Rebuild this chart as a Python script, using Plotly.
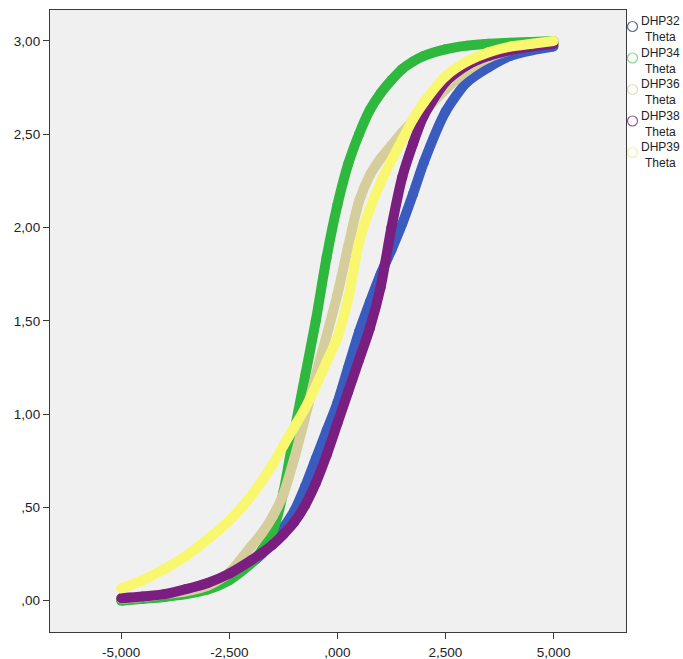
import plotly.graph_objects as go

# ---- data ----
theta = [-5.0, -4.5, -4.0, -3.5, -3.0, -2.5, -2.0, -1.75, -1.5, -1.25, -1.0,
         -0.75, -0.5, -0.25, 0.0, 0.25, 0.5, 0.75, 1.0, 1.25, 1.5, 1.75, 2.0,
         2.5, 3.0, 3.5, 4.0, 4.5, 5.0]

dhp32 = [0.005, 0.012, 0.022, 0.04, 0.07, 0.12, 0.20, 0.25, 0.31, 0.39, 0.48,
         0.61, 0.76, 0.91, 1.06, 1.25, 1.44, 1.60, 1.75, 1.88, 2.02, 2.18, 2.35,
         2.62, 2.78, 2.86, 2.92, 2.95, 2.97]
dhp34 = [0.00, 0.01, 0.02, 0.035, 0.06, 0.11, 0.20, 0.27, 0.37, 0.58, 0.90,
         1.20, 1.50, 1.84, 2.12, 2.34, 2.50, 2.63, 2.72, 2.79, 2.85, 2.89, 2.92,
         2.955, 2.975, 2.985, 2.99, 2.995, 3.0]
dhp36 = [0.01, 0.02, 0.035, 0.05, 0.08, 0.15, 0.29, 0.36, 0.45, 0.57, 0.76,
         0.98, 1.21, 1.42, 1.64, 1.90, 2.14, 2.28, 2.37, 2.44, 2.51, 2.57, 2.62,
         2.74, 2.84, 2.91, 2.95, 2.975, 2.99]
dhp38 = [0.013, 0.022, 0.035, 0.062, 0.095, 0.145, 0.215, 0.255, 0.30, 0.355, 0.42,
         0.51, 0.63, 0.78, 0.95, 1.12, 1.29, 1.46, 1.68, 2.00, 2.27, 2.45, 2.60,
         2.78, 2.87, 2.92, 2.95, 2.97, 2.985]
dhp39 = [0.065, 0.11, 0.17, 0.24, 0.33, 0.43, 0.56, 0.64, 0.73, 0.83, 0.93,
         1.03, 1.15, 1.28, 1.41, 1.62, 1.92, 2.10, 2.24, 2.36, 2.47, 2.58, 2.67,
         2.81, 2.89, 2.94, 2.97, 2.985, 3.0]

series_names = ["DHP32", "DHP34", "DHP36", "DHP38", "DHP39"]
series_values = [dhp32, dhp34, dhp36, dhp38, dhp39]
legend_second_line = "Theta"

x_tick_vals = [-5.0, -2.5, 0.0, 2.5, 5.0]
x_tick_text = ["-5,000", "-2,500", ",000", "2,500", "5,000"]
y_tick_vals = [0.0, 0.5, 1.0, 1.5, 2.0, 2.5, 3.0]
y_tick_text = [",00", ",50", "1,00", "1,50", "2,00", "2,50", "3,00"]

# ---- styling ----
line_colors = ["#3a5cbe", "#2fb83e", "#d6cd9c", "#7a1f7f", "#f8f76e"]
legend_colors = ["#5b6a9c", "#86d488", "#e2dcc0", "#8c5c90", "#f1f0a8"]
FONT = "Liberation Sans, Arial, sans-serif"

W, H = 683, 659
ML, MR, MT, MB = 50, 57, 10, 27
PW, PH = W - ML - MR, H - MT - MB

fig = go.Figure()
for name, vals, col in zip(series_names, series_values, line_colors):
    fig.add_trace(go.Scatter(
        x=theta, y=vals, mode="lines+markers", name=name,
        line=dict(color=col, width=10, shape="spline", smoothing=0.7),
        marker=dict(color=col, size=10, line=dict(width=0)),
        showlegend=False, hoverinfo="skip",
    ))

def px_to_paper(px, py):
    return (px - ML) / PW, 1 - (py - MT) / PH

shapes = []
annotations = []
leg_y0, leg_dy = 26.5, 31.5
for i, (name, col) in enumerate(zip(series_names, legend_colors)):
    cy = leg_y0 + i * leg_dy
    sx, sy = px_to_paper(632.5, cy)
    shapes.append(dict(type="circle", xref="paper", yref="paper",
                       xsizemode="pixel", ysizemode="pixel",
                       xanchor=sx, yanchor=sy, x0=-5, x1=5, y0=-5, y1=5,
                       line=dict(color=col, width=1.2), fillcolor="rgba(0,0,0,0)"))
    tx, ty = px_to_paper(640.0, cy + 3)
    annotations.append(dict(text=name + "<br>" + legend_second_line,
                            xref="paper", yref="paper", x=tx, y=ty,
                            xanchor="left", yanchor="middle", align="center",
                            showarrow=False, borderpad=0,
                            font=dict(family=FONT, size=12, color="#222")))

fig.update_layout(
    template="none",
    width=W, height=H, autosize=False,
    margin=dict(l=ML, r=MR, t=MT, b=MB, pad=0),
    paper_bgcolor="white", plot_bgcolor="#f0f0f0",
    showlegend=False,
    shapes=shapes, annotations=annotations,
    font=dict(family=FONT, size=13.5, color="#222"),
)
fig.update_xaxes(range=[-6.648, 6.676], tickvals=x_tick_vals, ticktext=x_tick_text,
                 automargin=False,
                 showgrid=False, zeroline=False, showline=True, mirror=True,
                 linecolor="#3a3a3a", linewidth=1.3, ticks="outside", ticklen=6,
                 tickcolor="#3a3a3a", tickwidth=1.3, ticklabelstandoff=2)
fig.update_yaxes(range=[-0.168, 3.166], tickvals=y_tick_vals, ticktext=y_tick_text,
                 automargin=False,
                 showgrid=False, zeroline=False, showline=True, mirror=True,
                 linecolor="#3a3a3a", linewidth=1.3, ticks="outside", ticklen=6,
                 tickcolor="#3a3a3a", tickwidth=1.3)

fig.write_html("out.html")
